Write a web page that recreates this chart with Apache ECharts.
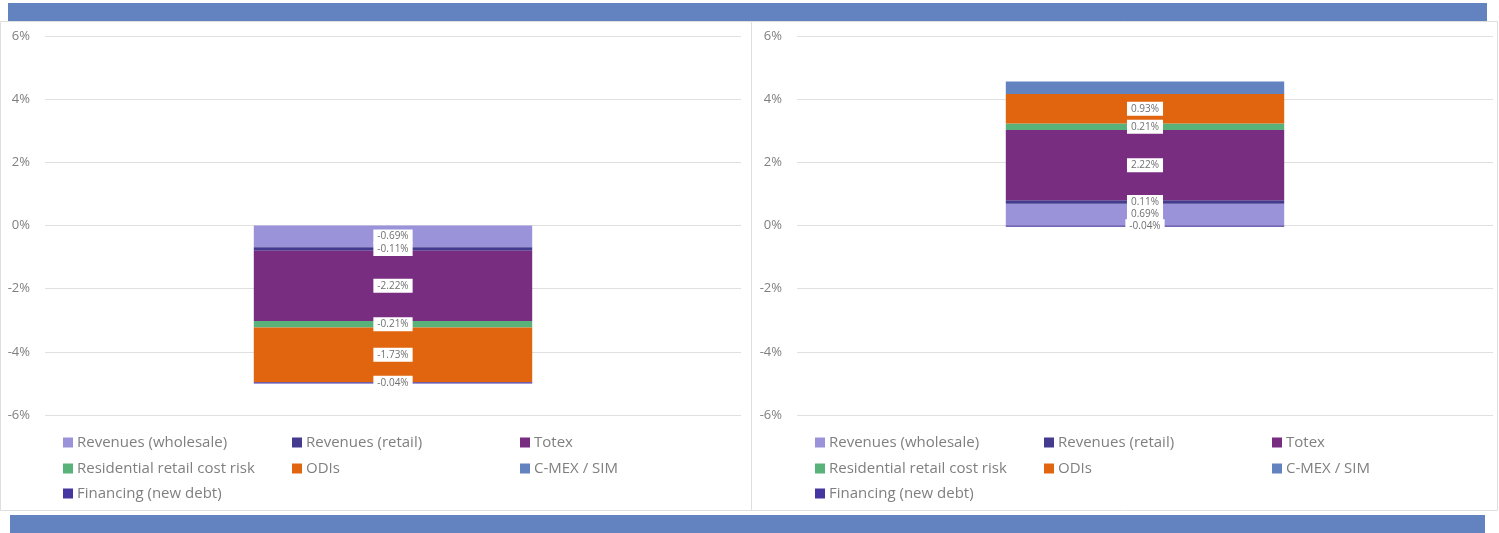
<!DOCTYPE html>
<html>
<head>
<meta charset="utf-8">
<script src="https://cdn.jsdelivr.net/npm/echarts@6/dist/echarts.min.js"></script>
<style>html,body{margin:0;padding:0;background:#fff;}#c{width:1499px;height:533px;}</style>
</head>
<body>
<div id="c"></div>
<script>
// ---- data ----
const seriesNames = ['Revenues (wholesale)', 'Revenues (retail)', 'Totex', 'Residential retail cost risk', 'ODIs', 'C-MEX / SIM', 'Financing (new debt)'];
const seriesColors = ['#9b93d9', '#453b8e', '#782d80', '#59b27a', '#e0650e', '#6282c0', '#4435a0'];
const leftValues  = [-0.69, -0.11, -2.22, -0.21, -1.73, 0.00, -0.04];
const rightValues = [0.69, 0.11, 2.22, 0.21, 0.93, 0.40, -0.04];
const showLabel   = [true, true, true, true, true, false, true];
const yTicks = { min: -6, max: 6, interval: 2 };
const categories = ['Scenario'];

const FONT = '"Open Sans", sans-serif';
const chart = echarts.init(document.getElementById('c'));

function makeSeries(values, gi) {
  return values.map((v, i) => ({
    name: seriesNames[i],
    type: 'bar',
    stack: 'total' + gi,
    xAxisIndex: gi, yAxisIndex: gi,
    barWidth: '40%',
    itemStyle: { color: seriesColors[i] },
    label: {
      show: showLabel[i],
      position: 'inside',
      formatter: p => p.value.toFixed(2) + '%',
      backgroundColor: '#ffffff',
      color: '#707070',
      fontSize: 10,
      fontFamily: FONT,
      padding: [2, 4]
    },
    emphasis: { disabled: true },
    data: [v]
  }));
}

const legendCols = [0, 229, 457];
const legendRows = [0, 26, 51];
const legends = [];
[63, 815].forEach(baseX => {
  seriesNames.forEach((n, i) => {
    legends.push({
      data: [n],
      left: baseX + legendCols[i % 3],
      top: 435 + legendRows[Math.floor(i / 3)],
      padding: 0,
      itemWidth: 10, itemHeight: 10, icon: 'rect',
      selectedMode: false,
      textStyle: { color: '#7f7f7f', fontSize: 15, fontFamily: FONT, padding: [0, 0, 0, -1] }
    });
  });
});

function yAxis(gi) {
  return {
    gridIndex: gi, type: 'value', min: yTicks.min, max: yTicks.max, interval: yTicks.interval,
    axisLine: { show: false }, axisTick: { show: false },
    axisLabel: { formatter: '{value}%', color: '#7f7f7f', fontSize: 13, fontFamily: FONT, margin: 15 },
    splitLine: { lineStyle: { color: '#e0e0e0', width: 1 } }
  };
}
function xAxis(gi) {
  return { gridIndex: gi, type: 'category', data: categories, show: false };
}

chart.setOption({
  animation: false,
  graphic: [
    { type: 'rect', shape: { x: 0.5, y: 21.5, width: 751, height: 489 }, style: { fill: '#fff', stroke: '#dedede', lineWidth: 1 }, z: -10 },
    { type: 'rect', shape: { x: 751.5, y: 21.5, width: 746, height: 489 }, style: { fill: '#fff', stroke: '#dedede', lineWidth: 1 }, z: -10 },
    { type: 'rect', shape: { x: 8, y: 3, width: 1479, height: 18 }, style: { fill: '#6282c0' }, z: 10 },
    { type: 'rect', shape: { x: 10, y: 515, width: 1475, height: 18 }, style: { fill: '#6282c0' }, z: 10 }
  ],
  grid: [
    { left: 45, width: 696, top: 36, height: 379 },
    { left: 797, width: 696, top: 36, height: 379 }
  ],
  xAxis: [xAxis(0), xAxis(1)],
  yAxis: [yAxis(0), yAxis(1)],
  legend: legends,
  series: makeSeries(leftValues, 0).concat(makeSeries(rightValues, 1))
});
</script>
</body>
</html>
